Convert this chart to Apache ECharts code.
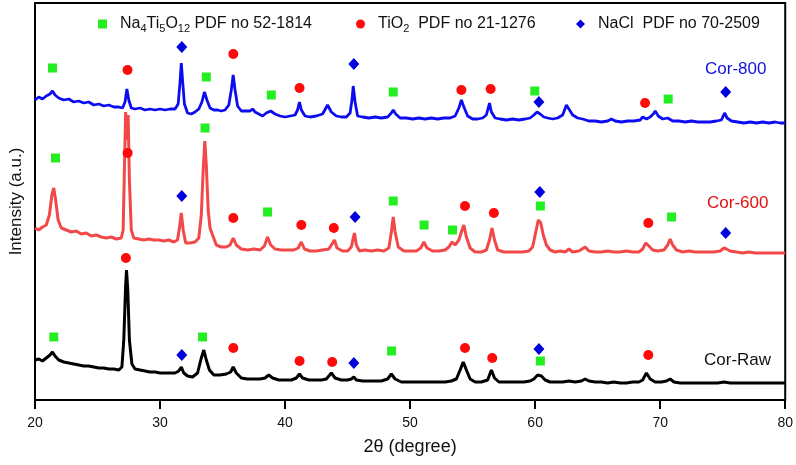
<!DOCTYPE html>
<html><head><meta charset="utf-8">
<script src="https://cdn.jsdelivr.net/npm/echarts@6/dist/echarts.min.js"></script>
<style>html,body{margin:0;padding:0;background:#fff}#c{width:796px;height:465px}</style>
</head><body><div id="c"></div>
<script>
// x: 2θ (degree); y: intensity (a.u., curves offset as drawn)
const xTicks = [20, 30, 40, 50, 60, 70, 80];
const cor800 = [[20.0,300],[20.3,303],[20.6,301],[20.9,304],[21.2,306],[21.4,309],[21.6,305],[21.9,302],[22.3,300],[22.7,301],[23.1,298],[23.5,299],[23.9,297],[24.3,298],[24.7,295],[25.1,296],[25.5,294],[25.9,295],[26.3,293],[26.7,293],[27.0,292],[27.2,298],[27.35,311],[27.5,300],[27.7,292],[28.0,291],[28.4,292],[28.8,290],[29.2,291],[29.6,290],[30.0,291],[30.4,290],[30.8,291],[31.2,291],[31.45,296],[31.6,318],[31.7,337],[31.8,320],[31.95,296],[32.2,287],[32.5,286],[32.8,288],[33.1,291],[33.35,298],[33.55,308],[33.75,300],[34.0,292],[34.3,290],[34.6,290],[34.9,289],[35.2,290],[35.5,295],[35.7,310],[35.85,325],[36.0,310],[36.2,294],[36.5,289],[36.9,289],[37.2,289],[37.4,291],[37.6,288],[37.9,286],[38.2,284],[38.5,287],[38.85,289],[39.2,286],[39.6,284],[40.0,283],[40.4,284],[40.8,285],[41.0,290],[41.15,298],[41.3,290],[41.6,284],[42.0,283],[42.5,284],[43.0,286],[43.4,295],[43.7,288],[44.1,284],[44.5,283],[44.9,283],[45.2,287],[45.35,300],[45.45,314],[45.6,298],[45.8,284],[46.2,283],[46.7,282],[47.2,283],[47.7,282],[48.2,283],[48.5,287],[48.65,290],[48.85,286],[49.2,282],[49.7,282],[50.2,281],[50.7,282],[51.2,281],[51.7,282],[52.2,281],[52.7,282],[53.2,282],[53.6,284],[53.9,292],[54.1,300],[54.3,293],[54.6,284],[55.0,281],[55.4,281],[55.8,282],[56.1,285],[56.35,297],[56.5,288],[56.8,282],[57.2,281],[57.7,280],[58.2,281],[58.7,280],[59.2,281],[59.6,282],[59.9,285],[60.15,288],[60.4,286],[60.7,283],[61.0,282],[61.4,281],[61.8,282],[62.2,285],[62.5,295],[62.7,291],[63.0,285],[63.4,282],[63.8,281],[64.3,279],[64.8,279],[65.3,278],[65.8,279],[66.1,281],[66.4,279],[66.9,278],[67.4,279],[67.9,279],[68.4,280],[68.6,283],[68.9,281],[69.2,283],[69.45,286],[69.6,289],[69.85,284],[70.2,281],[70.6,282],[71.0,279],[71.5,279],[72.0,278],[72.5,279],[73.0,278],[73.5,278],[74.0,278],[74.5,279],[74.9,280],[75.15,287],[75.35,282],[75.7,279],[76.2,278],[76.7,277],[77.2,278],[77.7,277],[78.2,278],[78.7,277],[79.2,278],[79.6,277],[80.0,277]];
const cor600 = [[20.0,172],[20.3,170],[20.6,173],[20.9,175],[21.15,185],[21.35,205],[21.5,212],[21.65,200],[21.85,180],[22.1,172],[22.5,170],[22.9,168],[23.3,169],[23.7,166],[24.1,167],[24.5,164],[24.9,165],[25.3,163],[25.7,162],[26.1,163],[26.5,161],[26.9,162],[27.05,170],[27.15,230],[27.25,288],[27.35,260],[27.45,285],[27.55,220],[27.7,170],[27.9,162],[28.3,161],[28.7,160],[29.1,161],[29.5,160],[29.9,160],[30.3,159],[30.7,160],[31.1,158],[31.4,160],[31.55,172],[31.7,187],[31.85,170],[32.05,157],[32.4,157],[32.8,158],[33.1,162],[33.3,185],[33.45,230],[33.58,259],[33.7,235],[33.85,190],[34.0,172],[34.2,165],[34.5,155],[34.9,153],[35.3,153],[35.6,155],[35.85,162],[36.1,155],[36.5,151],[37.0,150],[37.5,151],[38.0,150],[38.35,154],[38.6,163],[38.85,155],[39.2,151],[39.7,150],[40.2,150],[40.7,150],[41.05,152],[41.3,158],[41.55,151],[42.0,149],[42.5,149],[43.0,150],[43.5,151],[43.8,157],[43.95,160],[44.15,152],[44.6,149],[45.0,149],[45.3,153],[45.45,162],[45.55,167],[45.7,155],[45.95,149],[46.4,150],[46.9,149],[47.4,150],[47.9,149],[48.3,152],[48.5,168],[48.65,183],[48.8,168],[49.05,153],[49.5,149],[50.0,149],[50.5,149],[50.85,152],[51.1,158],[51.35,152],[51.8,149],[52.3,149],[52.8,150],[53.1,153],[53.35,158],[53.6,155],[53.9,160],[54.15,170],[54.3,175],[54.5,163],[54.8,152],[55.2,148],[55.7,148],[56.1,150],[56.35,160],[56.55,172],[56.75,160],[57.0,150],[57.5,148],[58.0,148],[58.5,148],[59.0,148],[59.5,149],[59.8,153],[60.05,168],[60.25,180],[60.45,177],[60.65,165],[60.9,155],[61.2,150],[61.6,148],[62.0,149],[62.4,148],[62.7,151],[63.0,148],[63.5,149],[64.0,153],[64.3,149],[64.8,148],[65.3,148],[65.8,149],[66.3,148],[66.8,148],[67.3,149],[67.8,148],[68.3,148],[68.6,151],[68.85,157],[69.1,154],[69.4,150],[69.8,149],[70.3,150],[70.6,155],[70.8,161],[71.0,155],[71.3,150],[71.8,148],[72.3,149],[72.8,148],[73.3,148],[73.8,148],[74.3,148],[74.8,149],[75.1,152],[75.3,151],[75.6,149],[76.1,148],[76.6,147],[77.1,148],[77.6,147],[78.1,147],[78.6,147],[79.1,147],[79.6,147],[80.0,147]];
const corRaw = [[20.0,40],[20.3,41],[20.6,39],[20.9,42],[21.2,45],[21.4,48],[21.6,44],[21.9,40],[22.3,38],[22.7,37],[23.1,36],[23.5,35],[23.9,34],[24.3,34],[24.7,33],[25.1,32],[25.5,32],[25.9,31],[26.3,31],[26.7,30],[26.95,33],[27.1,60],[27.25,115],[27.32,130],[27.42,110],[27.55,60],[27.75,36],[28.0,31],[28.4,30],[28.8,29],[29.2,28],[29.6,28],[30.0,27],[30.4,27],[30.8,27],[31.2,27],[31.5,29],[31.7,33],[31.9,27],[32.2,24],[32.6,23],[33.0,27],[33.3,42],[33.5,50],[33.7,40],[33.95,30],[34.3,25],[34.8,25],[35.3,26],[35.65,28],[35.85,33],[36.1,27],[36.5,22],[37.0,21],[37.5,21],[38.0,21],[38.4,22],[38.7,25],[39.0,22],[39.5,20],[40.0,20],[40.5,20],[40.9,22],[41.15,26],[41.4,22],[41.9,20],[42.4,20],[42.9,20],[43.3,21],[43.7,27],[44.0,22],[44.5,20],[45.0,20],[45.3,21],[45.5,23],[45.7,20],[46.2,19],[46.7,19],[47.2,19],[47.7,19],[48.2,21],[48.5,26],[48.8,21],[49.3,18],[49.8,18],[50.3,18],[50.8,18],[51.3,18],[51.8,18],[52.3,18],[52.8,18],[53.3,19],[53.7,21],[54.0,30],[54.25,38],[54.5,30],[54.8,21],[55.2,18],[55.7,18],[56.2,20],[56.5,30],[56.75,22],[57.1,18],[57.6,18],[58.1,18],[58.6,18],[59.1,18],[59.6,19],[59.9,21],[60.2,25],[60.5,24],[60.8,20],[61.2,18],[61.7,18],[62.2,18],[62.7,19],[63.2,18],[63.7,19],[64.0,21],[64.3,19],[64.8,18],[65.3,18],[65.8,17],[66.3,18],[66.8,17],[67.3,17],[67.8,18],[68.3,18],[68.6,20],[68.9,27],[69.2,21],[69.6,18],[70.1,18],[70.5,19],[70.8,21],[71.1,18],[71.6,17],[72.1,17],[72.6,17],[73.1,17],[73.6,17],[74.1,17],[74.6,17],[75.1,18],[75.6,17],[76.1,17],[76.6,17],[77.1,17],[77.6,17],[78.1,17],[78.6,17],[79.1,17],[79.6,17],[80.0,17]];
// phase markers
const na4ti5o12Marks = [[21.4,332],[33.7,323],[38.9,305],[48.65,308],[59.97,309],[70.64,301],[21.64,242],[33.6,272],[38.6,188],[48.65,199],[51.12,175],[53.39,170],[60.42,194],[70.91,183],[21.5,63],[33.4,63],[48.52,49],[60.42,39]];
const tio2Marks = [[27.4,330],[35.86,346],[41.16,312],[54.1,310],[56.44,311],[68.79,297],[27.41,247],[35.86,182],[41.3,175],[43.9,172],[54.39,194],[56.7,187],[69.05,177],[27.27,142],[35.86,52],[41.16,39],[43.77,38],[54.39,52],[56.57,42],[69.05,45]];
const naclMarks = [[31.74,353],[45.5,336],[60.3,298],[75.24,308],[31.74,204],[45.6,183],[60.37,208],[75.24,167],[31.74,45],[45.5,37],[60.3,51]];
const legendNames = ['Na4Ti5O12 PDF no 52-1814', 'TiO2  PDF no 21-1276', 'NaCl  PDF no 70-2509'];
const legendRich = ['{n|Na}{s|4}{n|Ti}{s|5}{n|O}{s|12}{n| PDF no 52-1814}', '{n|TiO}{s|2}{n|  PDF no 21-1276}', '{n|NaCl  PDF no 70-2509}'];
const curveLabels = ['Cor-800', 'Cor-600', 'Cor-Raw'];

const FONT = '"Liberation Sans", Arial, sans-serif';
const chart = echarts.init(document.getElementById('c'), null, {renderer: 'canvas'});
const rich = {
  n: {fontSize: 16, fontFamily: FONT, color: '#111', lineHeight: 20, verticalAlign: 'middle'},
  s: {fontSize: 11, fontFamily: FONT, color: '#111', lineHeight: 20, verticalAlign: 'bottom'}
};
function mkLegend(i, left) {
  return {
    left: left, top: 11, data: [legendNames[i]], itemWidth: 9, itemHeight: 9,
    formatter: () => legendRich[i],
    textStyle: {rich: rich, padding: [0, 0, 0, 8]}
  };
}
chart.setOption({
  animation: false,
  backgroundColor: '#fff',
  grid: {left: 33, right: 10, top: 3, bottom: 65, show: true, borderColor: '#000', borderWidth: 2},
  legend: [mkLegend(0, 93), mkLegend(1, 351), mkLegend(2, 571)],
  xAxis: {
    type: 'value', min: xTicks[0], max: xTicks[xTicks.length - 1], interval: 10,
    name: '2\u03b8 (degree)', nameLocation: 'middle', nameGap: 38,
    nameTextStyle: {fontSize: 18, fontFamily: FONT, color: '#111'},
    axisLine: {lineStyle: {color: '#000', width: 2}},
    axisTick: {show: true, length: 9, lineStyle: {color: '#000', width: 2}},
    axisLabel: {fontSize: 14, fontFamily: FONT, color: '#111', margin: 16},
    splitLine: {show: false}
  },
  yAxis: {
    type: 'value', min: 0, max: 397,
    name: 'Intensity (a.u.)', nameLocation: 'middle', nameGap: 10,
    nameTextStyle: {fontSize: 17, fontFamily: FONT, color: '#111'},
    axisLine: {show: true, lineStyle: {color: '#000', width: 2}},
    axisTick: {show: false}, axisLabel: {show: false}, splitLine: {show: false}
  },
  series: [
    {type: 'line', name: curveLabels[0], data: cor800, showSymbol: false, lineStyle: {color: '#0c0cf0', width: 2.8}, z: 2},
    {type: 'line', name: curveLabels[1], data: cor600, showSymbol: false, lineStyle: {color: '#f24848', width: 3}, z: 2},
    {type: 'line', name: curveLabels[2], data: corRaw, showSymbol: false, lineStyle: {color: '#000', width: 3}, z: 2},
    {type: 'scatter', name: legendNames[0], data: na4ti5o12Marks, symbol: 'rect', symbolSize: 9, itemStyle: {color: '#22ee22', opacity: 1}, z: 3},
    {type: 'scatter', name: legendNames[1], data: tio2Marks, symbol: 'circle', symbolSize: 10, itemStyle: {color: '#ff0a0a', opacity: 1}, z: 3},
    {type: 'scatter', name: legendNames[2], data: naclMarks, symbol: 'diamond', symbolSize: [11, 12], itemStyle: {color: '#0000dd', opacity: 1}, z: 3}
  ],
  graphic: [
    {type: 'text', left: 705, top: 61, style: {text: curveLabels[0], fontSize: 17, fontFamily: FONT, fill: '#1010e0'}},
    {type: 'text', left: 707, top: 195, style: {text: curveLabels[1], fontSize: 17, fontFamily: FONT, fill: '#e01010'}},
    {type: 'text', left: 704, top: 352, style: {text: curveLabels[2], fontSize: 17, fontFamily: FONT, fill: '#111'}}
  ]
});
</script></body></html>
